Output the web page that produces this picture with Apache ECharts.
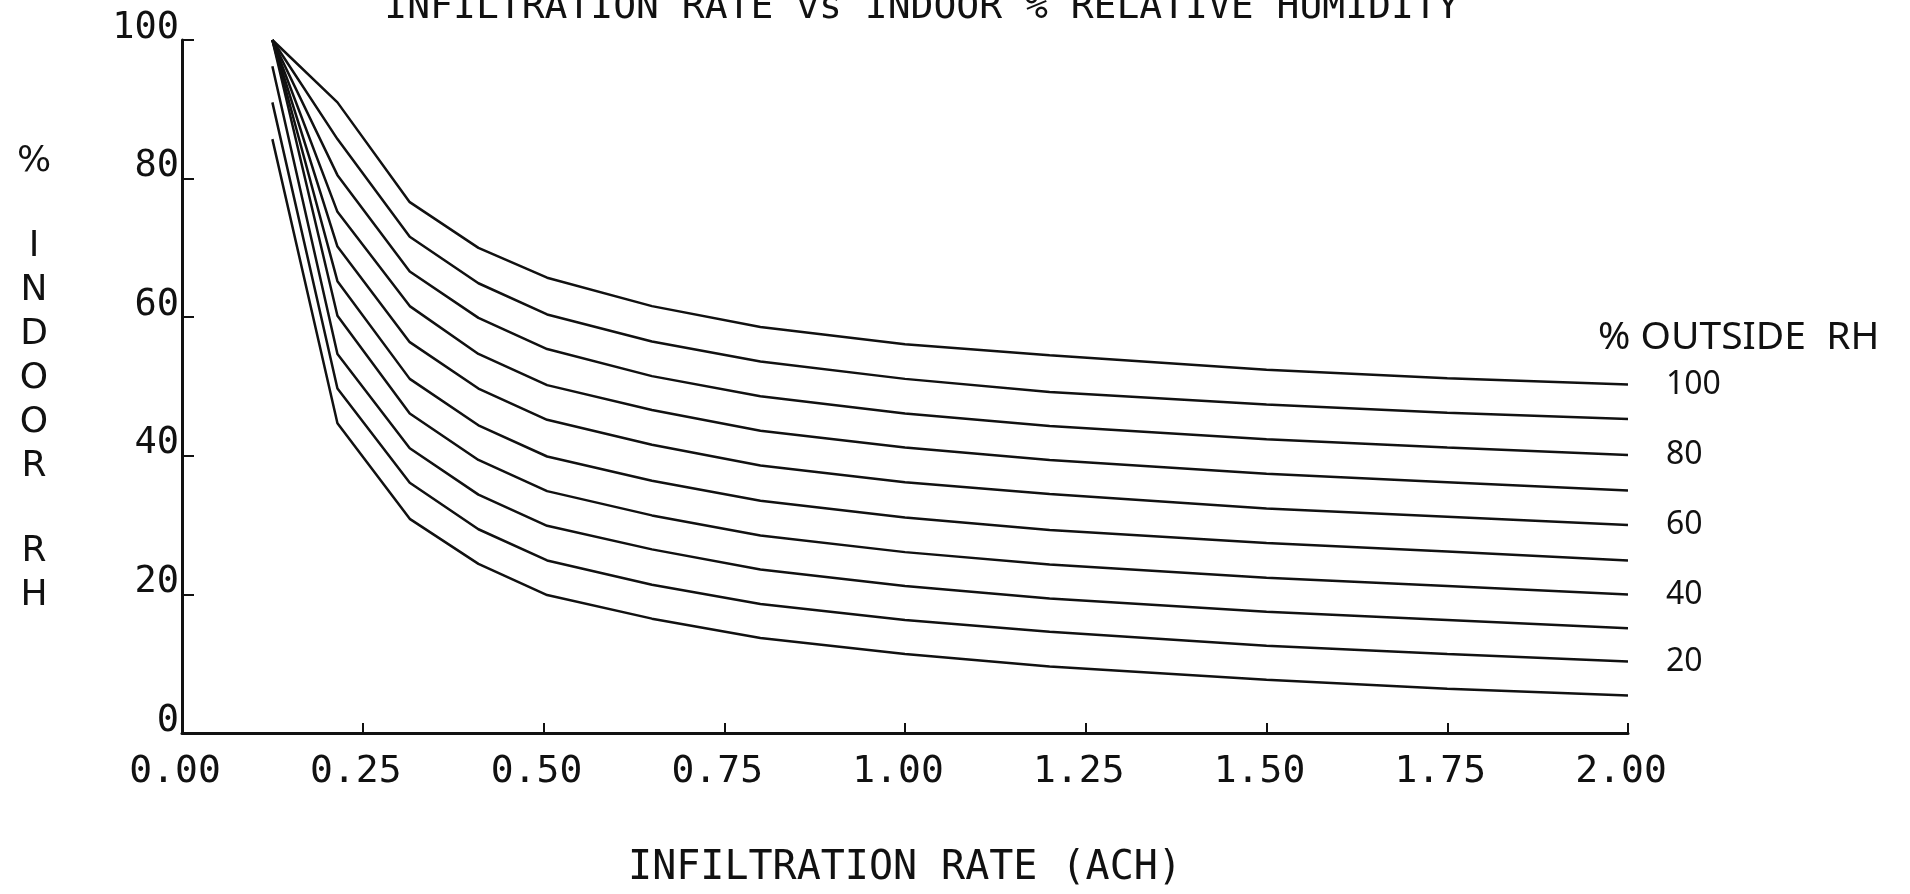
<!DOCTYPE html>
<html>
<head>
<meta charset="utf-8">
<script src="https://cdn.jsdelivr.net/npm/echarts@6/dist/echarts.min.js"></script>
<style>
html,body{margin:0;padding:0;background:#fff;}
#chart{width:1910px;height:894px;}
</style>
</head>
<body>
<div id="chart"></div>
<script>
// Infiltration rate (ACH) sample points shared by all curves
const xRates = [0.125, 0.215, 0.315, 0.41, 0.505, 0.65, 0.8, 1.0, 1.2, 1.5, 1.75, 2.0];
// Indoor % RH for each outside % RH curve
const rh100 = [100, 91.0, 76.6, 70.0, 65.7, 61.6, 58.6, 56.1, 54.5, 52.4, 51.2, 50.3];
const rh90  = [100, 85.7, 71.6, 64.9, 60.4, 56.5, 53.6, 51.1, 49.2, 47.4, 46.2, 45.3];
const rh80  = [100, 80.5, 66.6, 59.9, 55.4, 51.5, 48.6, 46.1, 44.3, 42.4, 41.2, 40.1];
const rh70  = [100, 75.2, 61.6, 54.7, 50.2, 46.6, 43.6, 41.2, 39.4, 37.4, 36.2, 35.0];
const rh60  = [100, 70.2, 56.4, 49.7, 45.2, 41.6, 38.6, 36.2, 34.5, 32.4, 31.2, 30.0];
const rh50  = [100, 65.2, 51.1, 44.4, 39.9, 36.4, 33.5, 31.1, 29.3, 27.4, 26.2, 24.9];
const rh40  = [100, 60.2, 46.1, 39.4, 34.9, 31.4, 28.5, 26.1, 24.3, 22.4, 21.2, 20.0];
const rh30  = [96.2, 54.7, 41.1, 34.4, 29.9, 26.5, 23.6, 21.2, 19.4, 17.5, 16.3, 15.1];
const rh20  = [91.0, 49.7, 36.1, 29.4, 24.9, 21.4, 18.6, 16.3, 14.6, 12.6, 11.4, 10.3];
const rh10  = [85.7, 44.7, 30.9, 24.4, 19.9, 16.5, 13.7, 11.4, 9.6, 7.7, 6.4, 5.4];
const outsideRH = ['100','90','80','70','60','50','40','30','20','10'];
const labeledCurves = ['100','80','60','40','20'];

const curves = [rh100, rh90, rh80, rh70, rh60, rh50, rh40, rh30, rh20, rh10];
const plotFont = 'DejaVu Sans Mono';
const handFont = 'Noto Sans';

const series = curves.map((vals, i) => ({
  name: outsideRH[i],
  type: 'line',
  symbol: 'none',
  smooth: false,
  silent: true,
  data: vals.map((v, j) => [xRates[j], v]),
  lineStyle: { color: '#111', width: 2.5 },
  endLabel: {
    show: labeledCurves.indexOf(outsideRH[i]) >= 0,
    formatter: '{a}',
    distance: 38,
    color: '#111',
    fontFamily: handFont,
    fontSize: 32
  }
}));

const chart = echarts.init(document.getElementById('chart'));
chart.setOption({
  animation: false,
  backgroundColor: '#fff',
  grid: { left: 182, right: 282, top: 40, bottom: 120, containLabel: false },
  xAxis: {
    type: 'value', min: 0, max: 2, interval: 0.25,
    name: 'INFILTRATION RATE (ACH)',
    nameLocation: 'middle', nameGap: 116,
    nameTextStyle: { fontFamily: plotFont, fontSize: 40, color: '#111' },
    axisLine: { show: true, lineStyle: { color: '#111', width: 3 } },
    axisTick: { show: true, inside: true, length: 10, lineStyle: { color: '#111', width: 2 } },
    axisLabel: {
      margin: 20, color: '#111', fontFamily: plotFont, fontSize: 38,
      padding: [0, 14, 0, 0],
      formatter: v => v.toFixed(2)
    },
    splitLine: { show: false }
  },
  yAxis: {
    type: 'value', min: 0, max: 100, interval: 20,
    axisLine: { show: true, lineStyle: { color: '#111', width: 3 } },
    axisTick: { show: true, inside: true, length: 12, lineStyle: { color: '#111', width: 2 } },
    axisLabel: {
      margin: 3, color: '#111', fontFamily: plotFont, fontSize: 37,
      verticalAlign: 'bottom', lineHeight: 24
    },
    splitLine: { show: false }
  },
  graphic: [
    { type: 'text', x: 922, y: 27,
      style: { text: 'INFILTRATION RATE vs INDOOR % RELATIVE HUMIDITY', align: 'center', verticalAlign: 'bottom',
               font: '38px "DejaVu Sans Mono"', fill: '#111' } },
    { type: 'text', x: 34, y: 162,
      style: { text: '%', align: 'center', verticalAlign: 'middle', font: '36px "DejaVu Sans"', fill: '#111' } },
    { type: 'text', x: 34, y: 225,
      style: { text: 'I\nN\nD\nO\nO\nR', align: 'center', verticalAlign: 'top', lineHeight: 44,
               font: '36px "DejaVu Sans"', fill: '#111' } },
    { type: 'text', x: 34, y: 530,
      style: { text: 'R\nH', align: 'center', verticalAlign: 'top', lineHeight: 44,
               font: '36px "DejaVu Sans"', fill: '#111' } },
    { type: 'text', x: 1598, y: 338,
      style: { text: '% OUTSIDE  RH', align: 'left', verticalAlign: 'middle',
               font: '39px "Noto Sans"', fill: '#111' } }
  ],
  series: series
});
</script>
</body>
</html>
